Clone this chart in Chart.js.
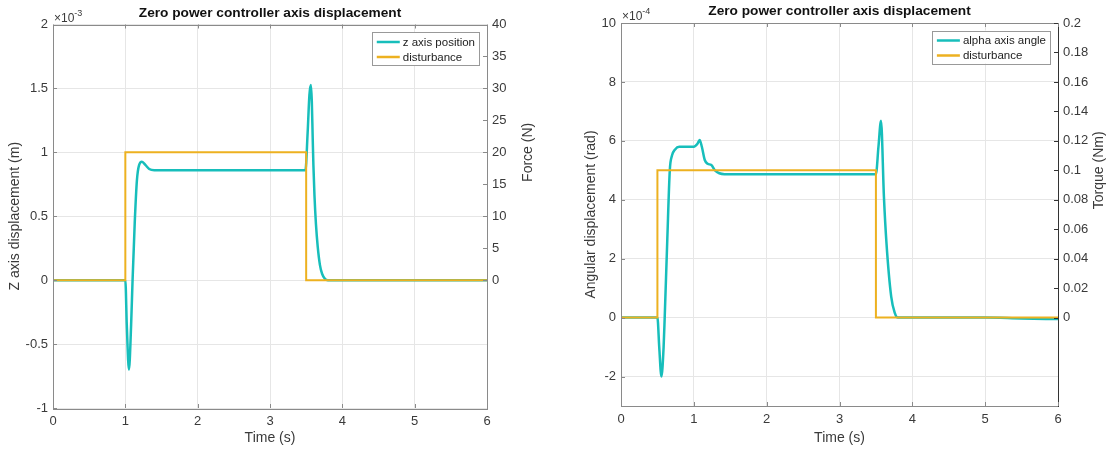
<!DOCTYPE html>
<html>
<head>
<meta charset="utf-8">
<title>Zero power controller axis displacement</title>
<script src="https://cdn.jsdelivr.net/npm/chart.js@4.4.0/dist/chart.umd.min.js"></script>
<style>
  body { margin: 0; background: #fff; }
  canvas { position: absolute; top: 0; }
  #chartZ { left: 0; }
  #chartAlpha { left: 556px; }
</style>
</head>
<body>
<canvas id="chartZ" width="556" height="452"></canvas>
<canvas id="chartAlpha" width="556" height="452"></canvas>
<script>
// z axis (values in 1e-3 m)
const zTime = [0, 1.0, 1.02, 1.05, 1.08, 1.10, 1.13, 1.16, 1.19, 1.23, 1.28, 1.33, 1.40,
  3.49, 3.52, 3.545, 3.565, 3.578, 3.59, 3.60, 3.615, 3.635, 3.66, 3.69, 3.72, 3.76, 3.80, 6];
const zPosition = [0, 0, -0.35, -0.70, -0.35, 0, 0.45, 0.78, 0.90, 0.926, 0.90, 0.87, 0.86,
  0.86, 1.15, 1.45, 1.527, 1.40, 1.12, 0.90, 0.66, 0.44, 0.26, 0.12, 0.05, 0.01, 0, 0];
const zDistTime = [0, 1, 1, 3.5, 3.5, 6];
const zForce = [0, 0, 20, 20, 0, 0];
const zTicks = [-1, -0.5, 0, 0.5, 1, 1.5, 2];
const forceTicks = [0, 5, 10, 15, 20, 25, 30, 35, 40];

// alpha axis (values in 1e-4 rad)
const aTime = [0, 0.5, 0.525, 0.555, 0.585, 0.60, 0.635, 0.67, 0.70, 0.74, 0.80, 1.00, 1.05,
  1.08, 1.11, 1.15, 1.19, 1.24, 1.29, 1.35, 1.42, 3.50, 3.535, 3.57, 3.61, 3.645, 3.71,
  3.76, 3.80, 5.0, 5.5, 6.0];
const aAngle = [0, 0, -1.0, -2.0, -1.0, 0, 2.6, 5.0, 5.5, 5.7, 5.8, 5.8, 5.9,
  6.03, 5.8, 5.35, 5.22, 5.18, 5.0, 4.9, 4.87, 4.87, 5.8, 6.68, 4.1, 2.53, 0.71,
  0.15, 0, 0, -0.03, -0.05];
const aDistTime = [0, 0.5, 0.5, 3.5, 3.5, 6];
const aTorque = [0, 0, 0.1, 0.1, 0, 0];
const aTicks = [-2, 0, 2, 4, 6, 8, 10];
const torqueTicks = [0, 0.02, 0.04, 0.06, 0.08, 0.1, 0.12, 0.14, 0.16, 0.18, 0.2];

const timeTicks = [0, 1, 2, 3, 4, 5, 6];

const CYAN = '#17bebb';
const ORANGE = '#edb120';
const FONT = 'Liberation Sans, Arial, Helvetica, sans-serif';
const TEXT = '#3a3a3a';
const BOX = '#8a8a8a';
const GRID = '#e6e6e6';

function points(xs, ys) {
  return xs.map((x, i) => ({ x: x, y: ys[i] }));
}

function fmt(v) {
  return String(+v.toFixed(3));
}

// MATLAB-like decorations: title, exponent, box, inward ticks, legend, right label
const matlabLook = {
  id: 'matlabLook',
  afterDatasetsDraw(chart, args, o) {
    const ctx = chart.ctx;
    const a = chart.chartArea;
    const sx = chart.scales.x, sy = chart.scales.y, sy1 = chart.scales.y1;
    ctx.save();

    // box
    ctx.strokeStyle = BOX;
    ctx.lineWidth = 1;
    ctx.strokeRect(Math.round(a.left) + 0.5, Math.round(a.top) + 0.5,
      Math.round(a.right - a.left), Math.round(a.bottom - a.top));
    if (o.rightColor) {
      ctx.strokeStyle = o.rightColor;
      ctx.beginPath();
      ctx.moveTo(Math.round(a.right) + 0.5, a.top);
      ctx.lineTo(Math.round(a.right) + 0.5, a.bottom + 1);
      ctx.stroke();
    }

    // inward ticks
    ctx.strokeStyle = BOX;
    ctx.beginPath();
    sx.ticks.forEach(t => {
      const px = Math.round(sx.getPixelForValue(t.value)) + 0.5;
      ctx.moveTo(px, a.bottom); ctx.lineTo(px, a.bottom - 4);
      ctx.moveTo(px, a.top); ctx.lineTo(px, a.top + 4);
    });
    sy.ticks.forEach(t => {
      const py = Math.round(sy.getPixelForValue(t.value)) + 0.5;
      ctx.moveTo(a.left, py); ctx.lineTo(a.left + 4, py);
    });
    ctx.stroke();
    ctx.strokeStyle = o.rightColor || BOX;
    ctx.beginPath();
    sy1.ticks.forEach(t => {
      const py = Math.round(sy1.getPixelForValue(t.value)) + 0.5;
      ctx.moveTo(a.right, py); ctx.lineTo(a.right - 4, py);
    });
    ctx.stroke();

    // title
    ctx.fillStyle = '#111';
    ctx.font = 'bold 13.7px ' + FONT;
    ctx.textAlign = 'center';
    ctx.textBaseline = 'middle';
    ctx.fillText(o.title, (a.left + a.right) / 2, a.top - 11.5);

    // exponent
    ctx.fillStyle = TEXT;
    ctx.textAlign = 'left';
    ctx.textBaseline = 'alphabetic';
    ctx.font = '12px ' + FONT;
    ctx.fillText('\u00d710', a.left + 1, a.top - 3);
    const w = ctx.measureText('\u00d710').width;
    ctx.font = '9px ' + FONT;
    ctx.fillText(o.exponent, a.left + 1 + w, a.top - 9);

    // right axis label, centred on the shown ticks
    const rt = sy1.ticks;
    const yMid = (sy1.getPixelForValue(rt[0].value) + sy1.getPixelForValue(rt[rt.length - 1].value)) / 2;
    ctx.save();
    ctx.translate(a.right + 41, yMid);
    ctx.rotate(-Math.PI / 2);
    ctx.font = '14px ' + FONT;
    ctx.textAlign = 'center';
    ctx.textBaseline = 'middle';
    ctx.fillText(o.rightTitle, 0, 0);
    ctx.restore();

    // legend
    ctx.font = '11.5px ' + FONT;
    const sets = chart.data.datasets;
    let tw = 0;
    sets.forEach(d => { tw = Math.max(tw, ctx.measureText(d.label).width); });
    const bw = 5 + 23 + 3 + tw + 4;
    const bh = 33;
    const bx = a.right - 8 - bw;
    const by = a.top + 7.5;
    ctx.fillStyle = '#fff';
    ctx.fillRect(bx, by, bw, bh);
    ctx.strokeStyle = '#999';
    ctx.strokeRect(Math.round(bx) + 0.5, Math.round(by) + 0.5, Math.round(bw), bh);
    sets.forEach((d, i) => {
      const ry = by + 10 + i * 15;
      ctx.strokeStyle = d.borderColor;
      ctx.lineWidth = 2.5;
      ctx.beginPath();
      ctx.moveTo(bx + 5, ry); ctx.lineTo(bx + 28, ry);
      ctx.stroke();
      ctx.fillStyle = '#222';
      ctx.textAlign = 'left';
      ctx.textBaseline = 'middle';
      ctx.fillText(d.label, bx + 31, ry + 0.5);
    });
    ctx.restore();
  }
};

function makeChart(id, cfg) {
  const tickFont = { family: FONT, size: 13 };
  const titleFont = { family: FONT, size: 14 };
  return new Chart(document.getElementById(id), {
    type: 'line',
    data: {
      datasets: [{
        label: cfg.label,
        data: points(cfg.time, cfg.values),
        borderColor: CYAN,
        borderWidth: 2.5,
        cubicInterpolationMode: 'monotone',
        yAxisID: 'y',
        order: 1
      }, {
        label: 'disturbance',
        data: points(cfg.distTime, cfg.dist),
        borderColor: ORANGE,
        borderWidth: 2,
        tension: 0,
        yAxisID: 'y1',
        order: 0
      }]
    },
    options: {
      responsive: false,
      animation: false,
      events: [],
      layout: { padding: { top: cfg.top, left: 0, right: 0, bottom: 0 } },
      elements: { point: { radius: 0 } },
      plugins: {
        legend: { display: false },
        tooltip: { enabled: false },
        matlabLook: { title: 'Zero power controller axis displacement', exponent: cfg.exponent,
          rightTitle: cfg.rightTitle, rightColor: cfg.rightColor }
      },
      scales: {
        x: {
          type: 'linear', min: 0, max: 6,
          afterBuildTicks: s => { s.ticks = timeTicks.map(v => ({ value: v })); },
          afterFit: s => { s.height = cfg.bottomH; },
          ticks: { font: tickFont, color: TEXT, padding: 6, maxRotation: 0, callback: fmt },
          grid: { color: GRID, drawTicks: false },
          border: { display: false },
          title: { display: true, text: 'Time (s)', font: titleFont, color: TEXT, padding: { top: 0, bottom: 5 } }
        },
        y: {
          position: 'left', min: cfg.yMin, max: cfg.yMax,
          afterBuildTicks: s => { s.ticks = cfg.yTicks.map(v => ({ value: v })); },
          afterFit: s => { s.width = cfg.leftW; },
          ticks: { font: tickFont, color: TEXT, padding: 5, callback: fmt },
          grid: { color: GRID, drawTicks: false },
          border: { display: false },
          title: { display: true, text: cfg.leftTitle, font: titleFont, color: TEXT, padding: { top: cfg.leftTitlePad, bottom: 0 } }
        },
        y1: {
          position: 'right', min: cfg.y1Min, max: cfg.y1Max,
          afterBuildTicks: s => { s.ticks = cfg.y1Ticks.map(v => ({ value: v })); },
          afterFit: s => { s.width = cfg.rightW; },
          ticks: { font: tickFont, color: TEXT, padding: 5, callback: fmt },
          grid: { display: false, drawTicks: false },
          border: { display: false }
        }
      }
    },
    plugins: [matlabLook]
  });
}

makeChart('chartZ', {
  label: 'z axis position', time: zTime, values: zPosition,
  distTime: zDistTime, dist: zForce,
  yMin: -1, yMax: 2, yTicks: zTicks,
  y1Min: -20, y1Max: 40, y1Ticks: forceTicks,
  exponent: '-3', leftTitle: 'Z axis displacement (m)', rightTitle: 'Force (N)',
  top: 24.5, bottomH: 44, leftW: 53, rightW: 69, leftTitlePad: 7
});

makeChart('chartAlpha', {
  label: 'alpha axis angle', time: aTime, values: aAngle,
  distTime: aDistTime, dist: aTorque,
  yMin: -3, yMax: 10, yTicks: aTicks,
  y1Min: -0.06, y1Max: 0.2, y1Ticks: torqueTicks,
  exponent: '-4', leftTitle: 'Angular displacement (rad)', rightTitle: 'Torque (Nm)', rightColor: '#333',
  top: 23, bottomH: 46, leftW: 65, rightW: 54, leftTitlePad: 27
});
</script>
</body>
</html>
